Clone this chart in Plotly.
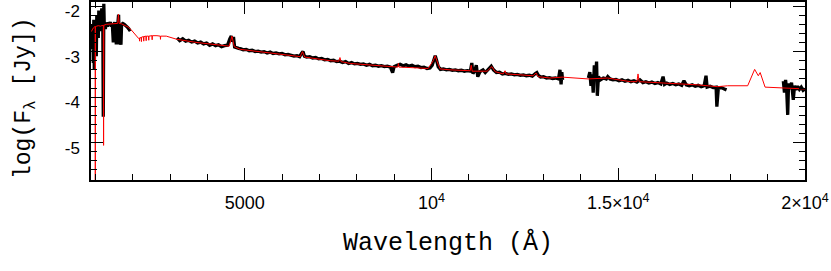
import plotly.graph_objects as go

# ---------------- data ----------------
# Observed spectrum, UV segment
obs_uv_wave = [893, 915, 920, 934, 947, 960, 973, 987, 1000, 1013, 1027, 1040, 1054, 1067,
               1080, 1094, 1107, 1121, 1134, 1147, 1161, 1174, 1187, 1201, 1214, 1228, 1241,
               1254, 1268, 1294, 1321, 1348, 1375, 1401, 1428, 1455, 1482, 1495, 1522, 1549,
               1562, 1575, 1602, 1624, 1642, 1655, 1687, 1704, 1736, 1776, 1816, 1856, 1896, 1937]
obs_uv_flux = [-2.40, -2.45, -2.95, -2.40, -3.25, -2.30, -3.40, -2.50, -2.90, -2.35, -3.10, -2.20,
               -2.60, -2.30, -2.70, -2.10, -2.45, -2.30, -2.55, -2.25, -2.40, -2.05, -2.45, -2.30,
               -4.43, -1.95, -2.45, -2.35, -2.50, -2.38, -2.45, -2.36, -2.42, -2.35, -2.45, -2.38,
               -2.80, -2.40, -2.36, -2.43, -2.84, -2.38, -2.40, -2.19, -2.84, -2.40, -2.85, -2.40,
               -2.38, -2.40, -2.42, -2.46, -2.50, -2.55]

# Observed spectrum, optical / J segment
obs_opt_wave = [3190, 3260, 3340, 3420, 3500, 3580, 3660, 3740, 3820, 3900, 3980, 4060, 4140, 4220,
                4300, 4380, 4460, 4540, 4600, 4640, 4670, 4700, 4730, 4780, 4840, 4900, 4960, 5040,
                5120, 5200, 5280, 5360, 5440, 5520, 5600, 5680, 5760, 5840, 5920, 6000, 6080, 6160,
                6240, 6320, 6400, 6470, 6520, 6560, 6600, 6660, 6740, 6820, 6900, 6980, 7060, 7140,
                7220, 7300, 7380, 7460, 7540, 7620, 7700, 7780, 7860, 7940, 8020, 8100, 8180, 8260,
                8340, 8420, 8500, 8580, 8660, 8740, 8820, 8900, 8960, 9000, 9080, 9160, 9240, 9320,
                9400, 9480, 9560, 9640, 9720, 9800, 9880, 9960, 10020, 10060, 10100, 10140, 10180,
                10240, 10320, 10400, 10480, 10560, 10640, 10720, 10800, 10880, 10960, 11040, 11080,
                11110, 11160, 11200, 11240, 11300, 11380, 11440, 11520, 11600, 11660, 11740, 11820,
                11900, 11980, 12060, 12140, 12220, 12300, 12380, 12460, 12540, 12620, 12700, 12780,
                12820, 12860, 12920, 13000, 13080, 13160, 13240, 13320, 13400, 13440, 13470, 13490,
                13510]
obs_opt_flux = [-2.70, -2.76, -2.72, -2.77, -2.75, -2.79, -2.77, -2.81, -2.79, -2.83, -2.81, -2.86,
                -2.83, -2.87, -2.85, -2.89, -2.87, -2.86, -2.72, -2.66, -2.78, -2.68, -2.90, -2.92,
                -2.93, -2.94, -2.96, -2.95, -2.98, -2.97, -3.00, -2.99, -3.01, -3.00, -3.03, -3.01,
                -3.04, -3.03, -3.05, -3.04, -3.07, -3.06, -3.08, -3.10, -3.09, -3.11, -3.04, -3.00,
                -3.10, -3.12, -3.11, -3.14, -3.13, -3.16, -3.15, -3.18, -3.17, -3.20, -3.19, -3.22,
                -3.21, -3.24, -3.22, -3.26, -3.24, -3.27, -3.26, -3.28, -3.27, -3.30, -3.28, -3.31,
                -3.30, -3.32, -3.31, -3.33, -3.32, -3.34, -3.46, -3.33, -3.30, -3.28, -3.31, -3.29,
                -3.32, -3.30, -3.33, -3.32, -3.35, -3.34, -3.37, -3.36, -3.30, -3.18, -3.09, -3.20,
                -3.33, -3.39, -3.38, -3.40, -3.39, -3.41, -3.40, -3.42, -3.41, -3.43, -3.42, -3.43,
                -3.25, -3.48, -3.42, -3.30, -3.55, -3.44, -3.40, -3.46, -3.38, -3.32, -3.40, -3.46,
                -3.45, -3.49, -3.48, -3.50, -3.49, -3.51, -3.50, -3.52, -3.51, -3.53, -3.52, -3.54,
                -3.48, -3.46, -3.52, -3.56, -3.55, -3.58, -3.57, -3.59, -3.58, -3.60, -3.40, -3.72,
                -3.45, -3.62]

# Observed spectrum, H segment
obs_h_wave = [14200, 14240, 14270, 14300, 14330, 14360, 14390, 14420, 14440, 14470, 14520, 14600,
              14680, 14720, 14780, 14860, 14940, 15020, 15100, 15180, 15260, 15340, 15420, 15500,
              15580, 15660, 15740, 15820, 15900, 15980, 16060, 16140, 16200, 16240, 16300, 16380,
              16460, 16540, 16620, 16700, 16760, 16820, 16900, 16980, 17060, 17140, 17220, 17300,
              17350, 17380, 17460, 17540, 17620, 17640, 17680, 17760, 17840, 17900]
obs_h_flux = [-3.58, -3.45, -3.75, -3.50, -3.90, -3.30, -3.65, -3.22, -3.97, -3.55, -3.62, -3.58,
              -3.60, -3.55, -3.60, -3.62, -3.61, -3.64, -3.62, -3.65, -3.63, -3.66, -3.64, -3.67,
              -3.62, -3.68, -3.66, -3.69, -3.67, -3.70, -3.68, -3.71, -3.55, -3.72, -3.69, -3.72,
              -3.70, -3.73, -3.71, -3.74, -3.64, -3.73, -3.75, -3.73, -3.76, -3.74, -3.77, -3.75,
              -3.53, -3.78, -3.76, -3.79, -3.78, -4.21, -3.80, -3.79, -3.82, -3.84]

# Observed spectrum, K segment
obs_k_wave = [19420, 19450, 19480, 19510, 19537, 19560, 19600, 19640, 19686, 19720, 19760, 19800,
              19850, 19900, 19950, 20000]
obs_k_flux = [-3.65, -3.90, -3.62, -3.85, -4.39, -3.70, -3.82, -3.68, -4.06, -3.75, -3.84, -3.76,
              -3.83, -3.78, -3.85, -3.82]

# Model spectrum
model_wave = [893, 920, 947, 973, 998, 1000, 1003, 1040, 1080, 1134, 1180, 1215, 1222, 1229, 1300,
              1400, 1500, 1600, 1620, 1640, 1700, 1800, 1880, 1960, 2050, 2130, 2159, 2180, 2185,
              2190, 2230, 2235, 2240, 2292, 2297, 2302, 2357, 2362, 2367, 2426, 2431, 2436, 2517,
              2522, 2527, 2651, 2740, 2745, 2750, 2900, 3007, 3186, 3722, 4433, 4586, 4658, 4720,
              4880, 5416, 5951, 6487, 6547, 6606, 7289, 7520, 7550, 7580, 7824, 8413, 8975, 9100,
              9115, 9130, 9430, 9912, 10046, 10100, 10166, 10232, 10500, 11036, 11065, 11090, 11490,
              11616, 11704, 11919, 11970, 12000, 12374, 12722, 12800, 12856, 13177, 13500, 14200,
              14710, 15326, 15500, 15530, 15560, 16215, 17125, 17660, 17930, 18465, 18652, 18750,
              18800, 18931, 19420, 20000]
model_flux = [-2.56, -2.50, -2.48, -2.46, -2.45, -5.90, -2.45, -2.44, -2.43, -2.44, -2.42, -2.42,
              -5.06, -2.42, -2.40, -2.39, -2.38, -2.38, -2.18, -2.38, -2.39, -2.42, -2.46, -2.52,
              -2.60, -2.68, -2.71, -2.70, -2.77, -2.70, -2.69, -2.78, -2.68, -2.67, -2.77, -2.67,
              -2.66, -2.76, -2.66, -2.66, -2.75, -2.66, -2.65, -2.74, -2.65, -2.65, -2.66, -2.73,
              -2.66, -2.66, -2.69, -2.73, -2.80, -2.87, -2.88, -2.66, -2.89, -2.95, -3.00, -3.05,
              -3.11, -3.00, -3.12, -3.20, -3.21, -3.13, -3.22, -3.26, -3.30, -3.33, -3.34, -3.26,
              -3.34, -3.35, -3.37, -3.20, -3.09, -3.25, -3.38, -3.40, -3.42, -3.30, -3.43, -3.43,
              -3.33, -3.44, -3.49, -3.42, -3.49, -3.51, -3.53, -3.47, -3.55, -3.58, -3.56, -3.60,
              -3.58, -3.66, -3.66, -3.49, -3.66, -3.69, -3.73, -3.77, -3.75, -3.75, -3.39, -3.53,
              -3.46, -3.78, -3.80, -3.82]

x_tick_vals = [5000, 10000, 15000, 20000]
x_tick_text = ["5000", "10<sup>4</sup>", "1.5×10<sup>4</sup>", "2×10<sup>4</sup>"]
y_tick_vals = [-2, -3, -4, -5]
y_tick_text = ["-2", "-3", "-4", "-5"]

# ---------------- figure ----------------
obs_wave = obs_uv_wave + [None] + obs_opt_wave + [None] + obs_h_wave + [None] + obs_k_wave
obs_flux = obs_uv_flux + [None] + obs_opt_flux + [None] + obs_h_flux + [None] + obs_k_flux

fig = go.Figure()
fig.add_trace(go.Scatter(x=obs_wave, y=obs_flux, mode="lines",
                         line=dict(color="black", width=3.3), connectgaps=False,
                         hoverinfo="skip"))
fig.add_trace(go.Scatter(x=model_wave, y=model_flux, mode="lines",
                         line=dict(color="#ff0000", width=1), hoverinfo="skip"))

axis_common = dict(showgrid=False, zeroline=False, showline=True, linecolor="black",
                   linewidth=1.5, mirror="allticks", ticks="inside", ticklen=12,
                   tickwidth=1.3, tickcolor="black", automargin=False,
                   ticklabeloverflow="allow")

fig.update_xaxes(range=[885, 20000], tickmode="array", tickvals=x_tick_vals,
                 ticktext=x_tick_text,
                 tickfont=dict(family="Liberation Sans, Arial", size=18, color="black"),
                 ticklabelstandoff=6,
                 minor=dict(ticks="inside", ticklen=6, tickwidth=1.2, tickcolor="black",
                            tick0=0, dtick=1000, showgrid=False),
                 **axis_common)
fig.update_yaxes(range=[-5.82, -1.91], tickmode="array", tickvals=y_tick_vals,
                 ticktext=y_tick_text,
                 tickfont=dict(family="Liberation Sans, Arial", size=17, color="black"),
                 ticklabelstandoff=6, ticklabelshift=5,
                 minor=dict(ticks="inside", ticklen=6, tickwidth=1.2, tickcolor="black",
                            tick0=0, dtick=0.2, showgrid=False),
                 **axis_common)

fig.add_annotation(text="Wavelength (Å)", xref="paper", yref="paper", x=0.5, y=0,
                   yshift=-63, xanchor="center", yanchor="middle", showarrow=False,
                   font=dict(family="Liberation Mono", size=25, color="black"))
fig.add_annotation(text="log(F<sub>λ</sub> [Jy])", xref="paper", yref="paper", x=0, y=0.5,
                   xshift=-66, yshift=-7, xanchor="center", yanchor="middle", textangle=-90,
                   showarrow=False,
                   font=dict(family="Liberation Mono", size=23, color="black"))

fig.update_layout(width=831, height=271, margin=dict(l=91, r=26, t=2, b=91),
                  paper_bgcolor="white", plot_bgcolor="white", showlegend=False)

fig.write_html("out.html", config={"displayModeBar": False},
               post_script="document.body.style.margin='0';document.body.style.padding='0';")
